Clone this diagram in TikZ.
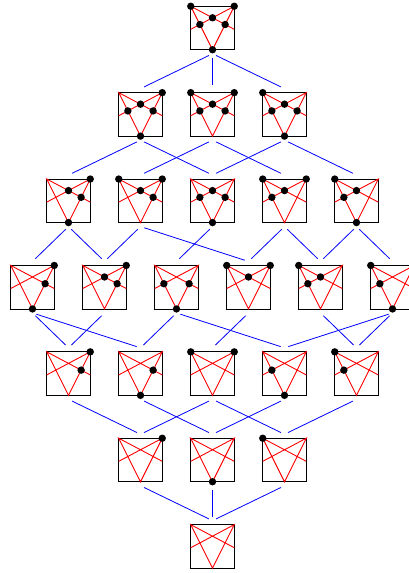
\documentclass[tikz,border=0pt]{standalone}
\usepackage{tikz}
\usetikzlibrary{positioning,calc}

\def\hs{21.75pt}

\begin{document}
\begin{tikzpicture}[
			node distance=86.4pt and 36pt, on grid,
			box/.style={draw,line width=0.9pt,minimum size=43.5pt,inner sep=0pt,outer xsep=0pt,outer ysep=4pt},
			link/.style={draw=blue,line width=0.8pt,shorten <=4pt,shorten >=4pt},
			star/.style={draw=red,line width=0.9pt},
			vtx/.style={fill=black}
			]
			\useasboundingbox (-212.5pt,28pt) rectangle (196.5pt,-545pt);
			% levels, top to bottom
			\node[box] (top) {};
			\node[box] (a2) [below=of top] {};
			\node[box] (a1) [left=72pt of a2] {};
			\node[box] (a3) [right=72pt of a2] {};
			\node[box] (b2) [below=of a1] {};
			\node[box] (b1) [left=72pt of b2] {};
			\node[box] (b3) [right=72pt of b2] {};
			\node[box] (b4) [right=72pt of b3] {};
			\node[box] (b5) [right=72pt of b4] {};
			\node[box] (c1) [below left=of b1] {};
			\node[box] (c2) [right=72pt of c1] {};
			\node[box] (c3) [right=72pt of c2] {};
			\node[box] (c4) [right=72pt of c3] {};
			\node[box] (c5) [right=72pt of c4] {};
			\node[box] (c6) [right=72pt of c5] {};
			\node[box] (d1) [below right=of c1] {};
			\node[box] (d2) [right=72pt of d1] {};
			\node[box] (d3) [right=72pt of d2] {};
			\node[box] (d4) [right=72pt of d3] {};
			\node[box] (d5) [right=72pt of d4] {};
			\node[box] (e1) [below=of d2] {};
			\node[box] (e2) [right=72pt of e1] {};
			\node[box] (e3) [right=72pt of e2] {};
			\node[box] (bot) [below=of e2] {};
			% covers
			\path (top.south) edge[link] (a1.north) edge[link] (a2.north) edge[link] (a3.north);
			\path (a1.south) edge[link] (b1.north) edge[link] (b3.north);
			\path (a2.south) edge[link] (b2.north) edge[link] (b4.north);
			\path (a3.south) edge[link] (b3.north) edge[link] (b5.north);
			\path (b1.south) edge[link] (c1.north) edge[link] (c2.north);
			\path (b2.south) edge[link] (c2.north) edge[link] (c4.north);
			\path (b3.south) edge[link] (c3.north);
			\path (b4.south) edge[link] (c4.north) edge[link] (c5.north);
			\path (b5.south) edge[link] (c5.north) edge[link] (c6.north);
			\path (c1.south) edge[link] (d1.north) edge[link] (d2.north);
			\path (c2.south) edge[link] (d1.north);
			\path (c3.south) edge[link] (d2.north) edge[link] (d4.north);
			\path (c4.south) edge[link] (d3.north);
			\path (c5.south) edge[link] (d5.north);
			\path (c6.south) edge[link] (d4.north) edge[link] (d5.north);
			\path (d1.south) edge[link] (e1.north);
			\path (d2.south) edge[link] (e2.north);
			\path (d3.south) edge[link] (e1.north) edge[link] (e3.north);
			\path (d4.south) edge[link] (e2.north);
			\path (d5.south) edge[link] (e3.north);
			\path (e1.south) edge[link] (bot.north);
			\path (e2.south) edge[link] (bot.north);
			\path (e3.south) edge[link] (bot.north);
			% the star in every box
			\foreach \n in {top,a1,a2,a3,b1,b2,b3,b4,b5,c1,c2,c3,c4,c5,c6,d1,d2,d3,d4,d5,e1,e2,e3,bot} {
				\coordinate (\n-tl) at ($(\n.center)+(-\hs,\hs)$);
				\coordinate (\n-tr) at ($(\n.center)+(\hs,\hs)$);
				\coordinate (\n-b) at ($(\n.center)+(0,-\hs)$);
				\coordinate (\n-l) at ($(\n.center)+(-\hs,-0.06*\hs)$);
				\coordinate (\n-r) at ($(\n.center)+(\hs,-0.06*\hs)$);
				\coordinate (\n-c) at ($(\n-tl)!.5!(\n-r)$);
				\coordinate (\n-p) at ($(\n-tl)!.42!(\n-b)$);
				\coordinate (\n-q) at ($(\n-tr)!.42!(\n-b)$);
				\draw[star] (\n-l) -- (\n-tr) -- (\n-b) -- (\n-tl) -- (\n-r);
			}
			% points kept in each set
			\foreach \n/\pts in {top/{tl,tr,c,p,q,b},
				a1/{tr,c,p,q,b}, a2/{tl,tr,c,p,q}, a3/{tl,c,p,q,b},
				b1/{tr,c,q,b}, b2/{tl,tr,c,q}, b3/{c,p,q,b}, b4/{tl,tr,c,p}, b5/{tl,c,p,b},
				c1/{tr,q,b}, c2/{tr,c,q}, c3/{p,q,b}, c4/{tl,tr,c}, c5/{tl,c,p}, c6/{tl,p,b},
				d1/{tr,q}, d2/{q,b}, d3/{tl,tr}, d4/{p,b}, d5/{tl,p},
				e1/{tr}, e2/{b}, e3/{tl}} {
				\foreach \d in \pts
					\fill[vtx] (\n-\d) circle (3.7pt);
			}
		\end{tikzpicture}
\end{document}
